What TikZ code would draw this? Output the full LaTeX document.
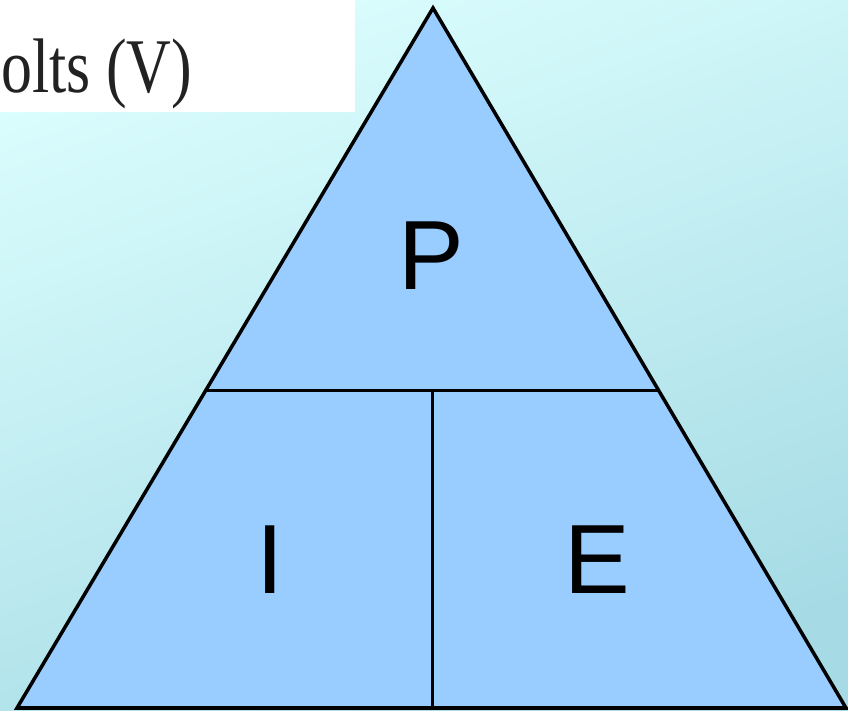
\documentclass[tikz,border=0pt]{standalone}
\usepackage{fontspec}
\usepackage{tikz}
\usetikzlibrary{positioning,calc}
\newfontfamily\labelfont{Liberation Sans}
\newfontfamily\captionfont{Liberation Serif}
\definecolor{skytop}{HTML}{DAFDFD}
\definecolor{skybottom}{HTML}{A6DBE5}
\definecolor{wedge}{HTML}{99CCFF}
\definecolor{inktext}{HTML}{222222}

\begin{document}
\begin{tikzpicture}[
  x=0.03cm, y=-0.03cm,
  edge/.style={draw=black,line width=3pt,line join=miter},
  divider/.style={draw=black,line width=2.6pt},
  letter/.style={font=\labelfont\fontsize{84}{84}\selectfont,text=black,inner sep=0pt},
  caption/.style={font=\captionfont\fontsize{66}{66}\selectfont,text=inktext,inner sep=0pt,xscale=0.8}
]
\useasboundingbox (0,0) rectangle (848,711);
% background
\shade[top color=skytop,bottom color=skybottom,shading angle=20] (0,0) rectangle (848,711);
\fill[white] (0,0) rectangle (355,112);
\node[caption,anchor=base west] (volts) at (1,93) {olts (V)};
% triangle corners
\coordinate (apex) at (433,8);
\coordinate (bl) at (17,708);
\coordinate (br) at (846,708);
\coordinate (ml) at ($(apex)!0.547!(bl)$);
\coordinate (mr) at ($(apex)!0.547!(br)$);
\coordinate (mid) at ($(ml)!0.5!(mr)$);
\coordinate (base) at ($(bl)!0.5!(br)$);
\filldraw[edge,fill=wedge] (apex) -- (bl) -- (br) -- cycle;
\draw[divider] (ml) -- (mr);
\draw[divider] (mid) -- (mid |- base);
% letters
\node[letter] (power) at (431,256) {P};
\node[letter] (current) at (270,560) {I};
\node[letter] (volt) at (597,560) {E};
\end{tikzpicture}
\end{document}
